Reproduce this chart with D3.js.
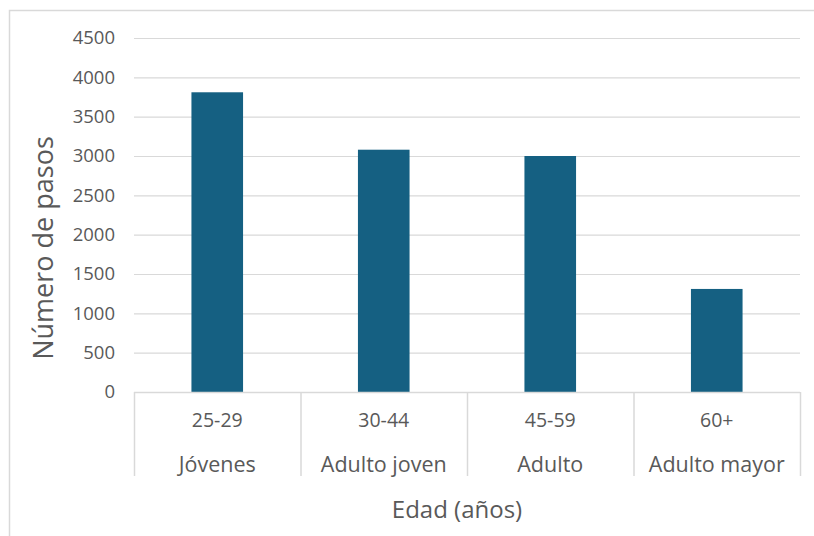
<!DOCTYPE html>
<html>
<head>
<meta charset="utf-8">
<script src="https://cdn.jsdelivr.net/npm/d3@7"></script>
<style>
  body { margin: 0; background: #fff; }
  svg text { font-family: "Open Sans", "Liberation Sans", sans-serif; fill: #595959; }
</style>
</head>
<body>
<div id="chart"></div>
<script>
// chart data
const ageRanges = ["25-29", "30-44", "45-59", "60+"];
const groups = ["Jóvenes", "Adulto joven", "Adulto", "Adulto mayor"];
const steps = [3810, 3080, 3000, 1310];
const yTicks = [0, 500, 1000, 1500, 2000, 2500, 3000, 3500, 4000, 4500];

const width = 814, height = 536;
const margin = { top: 38, right: 14, bottom: 144, left: 134 };
const innerW = width - margin.left - margin.right;
const innerH = height - margin.top - margin.bottom;

const svg = d3.select("#chart").append("svg")
  .attr("width", width)
  .attr("height", height);

// outer chart frame (only top and left visible)
svg.append("path")
  .attr("d", "M9.5,536 V10.5 H814")
  .attr("fill", "none")
  .attr("stroke", "#d9d9d9")
  .attr("stroke-width", 1.5);

const g = svg.append("g").attr("transform", `translate(${margin.left},${margin.top})`);

const x = d3.scaleBand()
  .domain(ageRanges)
  .range([0, innerW])
  .paddingInner(0.69)
  .paddingOuter(0.345);

const y = d3.scaleLinear()
  .domain([0, 4500])
  .range([innerH, 0]);

// gridlines
g.append("g")
  .selectAll("line")
  .data(yTicks.slice(1))
  .join("line")
  .attr("x1", 0)
  .attr("x2", innerW)
  .attr("y1", d => y(d) + 0.5)
  .attr("y2", d => y(d) + 0.5)
  .attr("stroke", "#d9d9d9")
  .attr("stroke-width", 1.2);

// y tick labels
g.append("g")
  .selectAll("text")
  .data(yTicks)
  .join("text")
  .attr("x", -19)
  .attr("y", d => y(d))
  .attr("dy", "0.35em")
  .attr("text-anchor", "end")
  .style("font-size", "18.5px")
  .text(d => d);

// bars
g.append("g")
  .selectAll("rect")
  .data(steps)
  .join("rect")
  .attr("x", (d, i) => x(ageRanges[i]))
  .attr("y", d => y(d))
  .attr("width", x.bandwidth())
  .attr("height", d => innerH - y(d))
  .attr("fill", "#156082");

// x axis line
g.append("line")
  .attr("x1", 0).attr("x2", innerW)
  .attr("y1", innerH + 0.5).attr("y2", innerH + 0.5)
  .attr("stroke", "#d9d9d9")
  .attr("stroke-width", 1.5);

// category dividers for the two-level axis
const bounds = d3.range(ageRanges.length + 1).map(i => i * innerW / ageRanges.length);
g.append("g")
  .selectAll("line")
  .data(bounds)
  .join("line")
  .attr("x1", d => d + 0.5).attr("x2", d => d + 0.5)
  .attr("y1", innerH).attr("y2", innerH + 84)
  .attr("stroke", "#d9d9d9")
  .attr("stroke-width", 1.5);

// age range labels
g.append("g")
  .selectAll("text")
  .data(ageRanges)
  .join("text")
  .attr("x", d => x(d) + x.bandwidth() / 2)
  .attr("y", innerH + 35)
  .attr("text-anchor", "middle")
  .style("font-size", "19.5px")
  .text(d => d);

// group labels
g.append("g")
  .selectAll("text")
  .data(groups)
  .join("text")
  .attr("x", (d, i) => x(ageRanges[i]) + x.bandwidth() / 2)
  .attr("y", innerH + 80)
  .attr("text-anchor", "middle")
  .style("font-size", "21.5px")
  .text(d => d);

// axis titles
svg.append("text")
  .attr("x", 457)
  .attr("y", 518)
  .attr("text-anchor", "middle")
  .style("font-size", "24px")
  .text("Edad (años)");

svg.append("text")
  .attr("transform", "translate(53,248) rotate(-90)")
  .attr("text-anchor", "middle")
  .style("font-size", "27px")
  .text("Número de pasos");
</script>
</body>
</html>
